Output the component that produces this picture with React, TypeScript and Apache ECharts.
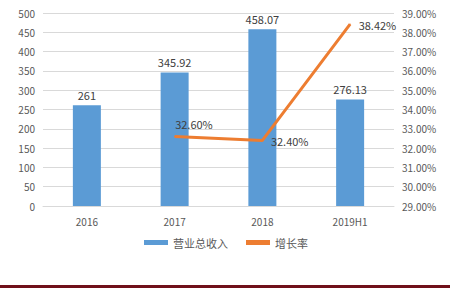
import React, { useEffect, useRef } from "react";
import * as echarts from "echarts";

const categories = ["2016", "2017", "2018", "2019H1"];
const revenue = [261, 345.92, 458.07, 276.13];
const growth: (number | null)[] = [null, 32.6, 32.4, 38.42];
const leftTicks = { min: 0, max: 500, interval: 50 };
const rightTicks = { min: 29, max: 39, interval: 1 };

const FONT = "'Noto Sans CJK SC', 'Noto Sans', sans-serif";

export default function App() {
  const ref = useRef<HTMLDivElement>(null);
  useEffect(() => {
    if (!ref.current) return;
    const chart = echarts.init(ref.current, undefined, { renderer: "svg" });
    chart.setOption({
      animation: false,
      backgroundColor: "#ffffff",
      textStyle: { fontFamily: FONT },
      grid: { left: 43, right: 58, top: 13, bottom: 85 },
      legend: {
        bottom: 38,
        left: "center",
        itemGap: 18,
        itemWidth: 24,
        itemHeight: 5,
        textStyle: { color: "#595959", fontSize: 11, fontFamily: FONT },
        data: [
          { name: "营业总收入", icon: "rect" },
          { name: "增长率", icon: "rect", itemStyle: { color: "#ed7d31" } },
        ],
      },
      xAxis: {
        type: "category",
        data: categories,
        axisLine: { lineStyle: { color: "#d9d9d9" } },
        axisTick: { show: false },
        axisLabel: { color: "#595959", fontSize: 10, margin: 10 },
      },
      yAxis: [
        {
          type: "value",
          ...leftTicks,
          axisLine: { show: false },
          axisTick: { show: false },
          splitLine: { lineStyle: { color: "#d9d9d9" } },
          axisLabel: { color: "#595959", fontSize: 10, margin: 8 },
        },
        {
          type: "value",
          ...rightTicks,
          axisLine: { show: false },
          axisTick: { show: false },
          splitLine: { show: false },
          axisLabel: {
            color: "#595959",
            fontSize: 10,
            margin: 8,
            formatter: (v: number) => v.toFixed(2) + "%",
          },
        },
      ],
      series: [
        {
          name: "营业总收入",
          type: "bar",
          data: revenue,
          barWidth: 28,
          itemStyle: { color: "#5b9bd5" },
          label: {
            show: true,
            position: "top",
            distance: 5,
            color: "#404040",
            fontSize: 11,
          },
        },
        {
          name: "增长率",
          type: "line",
          yAxisIndex: 1,
          data: growth,
          symbol: "circle",
          symbolSize: 1,
          itemStyle: { color: "#ed7d31" },
          lineStyle: { color: "#ed7d31", width: 3 },
          label: {
            show: true,
            position: "right",
            distance: 8,
            color: "#404040",
            fontSize: 11,
            formatter: (p: any) => Number(p.value).toFixed(2) + "%",
          },
          labelLayout: (params: any) => {
            if (params.dataIndex === 1) {
              return { dx: -8, dy: -13 };
            }
            return { dy: 1 };
          },
        },
      ],
      graphic: [
        {
          type: "rect",
          left: 0,
          top: 285,
          shape: { width: 450, height: 3 },
          style: { fill: "#70101a" },
        },
      ],
    });
    return () => chart.dispose();
  }, []);
  return (
    <div
      ref={ref}
      style={{ position: "fixed", left: 0, top: 0, width: 452, height: 291 }}
    />
  );
}
